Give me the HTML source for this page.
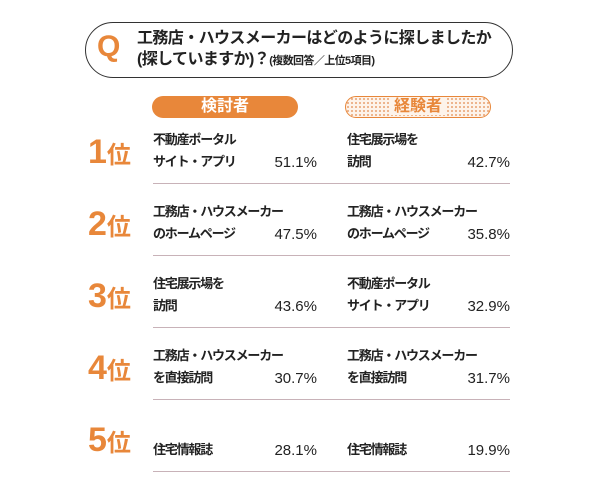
<!DOCTYPE html>
<html><head><meta charset="utf-8"><style>
body{margin:0;width:600px;height:483px;background:#fff;position:relative;overflow:hidden;font-family:"Liberation Sans","Noto Sans CJK JP",sans-serif;color:#222}
.a{position:absolute;white-space:nowrap}
.t{font-size:13px;font-weight:bold;line-height:22px;letter-spacing:-1.2px}
.p{font-size:15px;line-height:20px;text-align:right;width:80px}
.r{color:#e8873a;font-weight:bold}
.r b{font-size:34px}
.r span{font-size:24px}
.ln{position:absolute;left:153px;width:357px;height:1px;background:#c8b2b8}
</style></head><body>
<div class="a" style="left:85px;top:22px;width:426px;height:54px;border:1.5px solid #333;border-radius:28px"></div>
<div class="a" style="left:97px;top:30px;font-size:30px;font-weight:bold;color:#e8873a">Q</div>
<div class="a" style="left:137px;top:28px;font-size:16px;font-weight:bold;line-height:21px;letter-spacing:-0.6px">工務店・ハウスメーカーはどのように探しましたか<br>(探していますか)？<span style="font-size:11px">(複数回答／上位5項目)</span></div>
<div class="a" style="left:152px;top:96px;width:146px;height:22px;border-radius:11px;background:#e8873a;color:#fff;font-weight:bold;font-size:16px;text-align:center;line-height:22px">検討者</div>
<div class="a" style="left:345px;top:96px;width:144px;height:20px;border-radius:11px;border:1px solid #e8873a;background-color:#fdf3ea;background-image:radial-gradient(#e8a070 0.8px,transparent 1px);background-size:4px 4px;color:#e8873a;font-weight:bold;font-size:16px;text-align:center;line-height:20px"><span style="background:#fdf3ea;padding:0 3px">経験者</span></div>
<div id="rows"></div>
<script>
const ranks=["1","2","3","4","5"];
const leftItems=[["不動産ポータル","サイト・アプリ"],["工務店・ハウスメーカー","のホームページ"],["住宅展示場を","訪問"],["工務店・ハウスメーカー","を直接訪問"],["","住宅情報誌"]];
const leftValues=[51.1,47.5,43.6,30.7,28.1];
const rightItems=[["住宅展示場を","訪問"],["工務店・ハウスメーカー","のホームページ"],["不動産ポータル","サイト・アプリ"],["工務店・ハウスメーカー","を直接訪問"],["","住宅情報誌"]];
const rightValues=[42.7,35.8,32.9,31.7,19.9];
const root=document.getElementById('rows');
function add(html,cls,x,y,name){const d=document.createElement('div');d.className='a '+cls;d.style.left=x+'px';d.style.top=y+'px';d.innerHTML=html;


root.appendChild(d);return d;}
ranks.forEach((r,i)=>{
 const y0=111+i*72;
 add('<b>'+r+'</b><span>位</span>','r',88,y0+22,'rank-'+r);
 add(leftItems[i].join('<br>'),'t',153,y0+18,'left-item-'+r);
 add(leftValues[i].toFixed(1)+'%','p',237,y0+42,'left-value-'+r);
 add(rightItems[i].join('<br>'),'t',347,y0+18,'right-item-'+r);
 add(rightValues[i].toFixed(1)+'%','p',430,y0+42,'right-value-'+r);
 const l=document.createElement('div');l.className='ln';l.style.top=(y0+72)+'px';
 
 
 root.appendChild(l);
});
</script>
</body></html>
